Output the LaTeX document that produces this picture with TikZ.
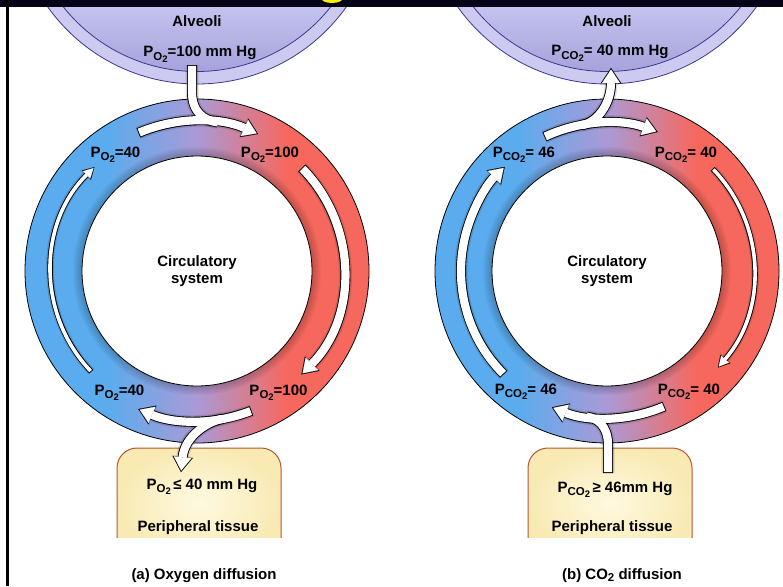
\documentclass[tikz,border=0pt]{standalone}
\usepackage{fontspec}
\setmainfont{Liberation Sans}
\usepackage{tikz}
\usetikzlibrary{arrows.meta,calc}
\definecolor{topband}{RGB}{4,4,22}
\definecolor{titleyellow}{RGB}{250,236,10}
\definecolor{ringblue}{RGB}{90,172,238}
\definecolor{ringpurple}{RGB}{170,154,214}
\definecolor{ringred}{RGB}{246,104,94}
\definecolor{alvband}{RGB}{204,202,240}
\definecolor{alvtop}{RGB}{196,194,238}
\definecolor{alvbottom}{RGB}{166,162,220}
\definecolor{alvline}{RGB}{58,58,140}
\definecolor{boxlight}{RGB}{254,249,224}
\definecolor{boxedge}{RGB}{249,234,180}
\definecolor{boxline}{RGB}{178,88,50}
\pgfdeclarehorizontalshading{ringgrad}{100bp}{color(0bp)=(ringblue); color(37bp)=(ringblue); color(50bp)=(ringpurple); color(63bp)=(ringred); color(100bp)=(ringred)}
\newcommand{\gasp}[2]{P\raisebox{-0.45ex}{\fontsize{11.5}{12}\selectfont #1\raisebox{-0.35ex}{\fontsize{9.5}{10}\selectfont #2}}}
\tikzset{
  lbl/.style={anchor=base, inner sep=0pt},
  ringline/.style={draw=black, line width=0.8pt},
  bigsh/.style={draw=black, line width=13pt, opacity=0.13, shift={(1.5,3)}},
  bigout/.style={draw=black, line width=10pt},
  bigin/.style={draw=white, line width=8.2pt, shorten <=0.9pt},
  tipsh/.style={-{Triangle[length=16pt,width=22pt,line width=0.1pt]}},
  tipout/.style={-{Triangle[length=15pt,width=20pt,line width=0.1pt]}},
  tipin/.style={shorten >=1.5pt, -{Triangle[length=13.3pt,width=17.6pt,line width=0.1pt]}},
  thinsh/.style={draw=black, line width=8pt, opacity=0.13, shift={(1.5,3)}},
  thinout/.style={draw=black, line width=5.4pt},
  thinin/.style={draw=white, line width=3.6pt, shorten <=0.9pt},
  thintipsh/.style={-{Triangle[length=12pt,width=15pt,line width=0.1pt]}},
  thintipout/.style={-{Triangle[length=11pt,width=12.5pt,line width=0.1pt]}},
  thintipin/.style={shorten >=1.2pt, -{Triangle[length=9.6pt,width=10.2pt,line width=0.1pt]}},
}
\begin{document}
\begin{tikzpicture}[x=1pt,y=-1pt,font=\bfseries\fontsize{15}{17}\selectfont]
  \useasboundingbox (0,0) rectangle (783,586);
  \fill[white] (0,0) rectangle (783,586);
  % alveoli
  \foreach \cx in {197,607}{
    \fill[alvband, draw=alvline, line width=0.8pt] (\cx,-99) circle (183);
    \begin{scope}
      \clip (\cx,-99) circle (170.5);
      \shade[top color=alvtop, bottom color=alvbottom] (\cx-175,7) rectangle (\cx+175,72);
    \end{scope}
    \draw[alvline, line width=0.8pt] (\cx,-99) circle (170.5);
  }
  \fill[topband] (0,0) rectangle (783,7.5);
  \begin{scope}
    \clip (0,0) rectangle (783,7.5);
    \fill[titleyellow] (332,-2) ellipse (11 and 5);
  \end{scope}
  \fill[black] (6,0) rectangle (8.5,586);

  \coordinate (ringA) at (197,271);
  \coordinate (ringB) at (607,271);
  \foreach \rc in {ringA,ringB}{
    \shade[shading=ringgrad] (\rc) circle (172);
    \foreach \k in {1,...,6}
      \draw[black, opacity=0.035, line width=3pt*\k] (\rc) circle (115);
    \draw[ringline] (\rc) circle (172);
    \fill[white, ringline] (\rc) circle (115);
  }

  % tissue boxes
  \begin{scope}
    \clip (0,440) rectangle (783,537);
    \foreach \bx in {117,528}
      \shade[inner color=boxlight, outer color=boxedge, draw=boxline, line width=1pt, rounded corners=20pt] (\bx,448) rectangle ++(164,110);
  \end{scope}

  % arrows
  \coordinate (oxTail) at (192,65);
  \coordinate (oxTip) at (181,472);
  \coordinate (coTip) at (611,68);
  \coordinate (coTail) at (608,473);
  \coordinate (oxIn) at ($(ringA)+(-82:150)$);
  \coordinate (oxOut) at ($(ringA)+(80:150)$);
  \coordinate (coOut) at ($(ringB)+(-100:148)$);
  \coordinate (coIn) at ($(ringB)+(98:147)$);
  \foreach \ly in {sh,out,in}{
    \draw[big\ly,tip\ly] ($(ringA)+(-113:150)$) arc[start angle=-113,end angle=-66,radius=150];
    \draw[big\ly] (oxTail) -- ++(0,27) .. controls +(0,20) and +(-14,-1.9) .. (oxIn);
    \draw[big\ly,tip\ly] ($(ringA)+(-44.5:147)$) arc[start angle=-44.5,end angle=44.7,radius=147];
    \draw[big\ly,tip\ly] ($(ringA)+(68.7:150)$) arc[start angle=68.7,end angle=113,radius=150];
    \draw[big\ly,tip\ly] (oxOut) .. controls +(-14,2.5) and +(4,-37) .. (oxTip);
    \draw[thin\ly,thintip\ly] ($(ringA)+(136.4:146)$) arc[start angle=136.4,end angle=225.3,radius=146];
    \draw[big\ly,tip\ly] ($(ringB)+(-115:148)$) arc[start angle=-115,end angle=-70,radius=148];
    \draw[big\ly,tip\ly] (coOut) .. controls +(15.7,-2.8) and +(0,36) .. (coTip);
    \draw[thin\ly,thintip\ly] ($(ringB)+(-44:147)$) arc[start angle=-44,end angle=41,radius=147];
    \draw[big\ly,tip\ly] ($(ringB)+(67:147)$) arc[start angle=67,end angle=112,radius=147];
    \draw[big\ly] (coTail) -- ++(0,-28) .. controls +(0,-20) and +(10,1.4) .. (coIn);
    \draw[big\ly,tip\ly] ($(ringB)+(135:146)$) arc[start angle=135,end angle=225.5,radius=146];
  }

  % labels
  \node[lbl] (alvA) at (197,26.5) {Alveoli};
  \node[lbl] (alvApres) at (200,56.5) {\gasp{O}{2}=100 mm Hg};
  \node[lbl] (alvB) at (607,26.5) {Alveoli};
  \node[lbl] (alvBpres) at (610,55.5) {\gasp{CO}{2}= 40 mm Hg};
  \node[lbl] (oxTL) at (115.5,157) {\gasp{O}{2}=40};
  \node[lbl] (oxTR) at (270,157) {\gasp{O}{2}=100};
  \node[lbl] (oxBL) at (119.5,395) {\gasp{O}{2}=40};
  \node[lbl] (oxBR) at (278.5,395) {\gasp{O}{2}=100};
  \node[lbl] (coTL) at (524,157) {\gasp{CO}{2}= 46};
  \node[lbl] (coTR) at (686,157) {\gasp{CO}{2}= 40};
  \node[lbl] (coBL) at (526,394) {\gasp{CO}{2}= 46};
  \node[lbl] (coBR) at (689,394) {\gasp{CO}{2}= 40};
  \node[align=center] (circA) at (ringA) {Circulatory\\system};
  \node[align=center] (circB) at (ringB) {Circulatory\\system};
  \node[lbl] (tisApres) at (202,489) {\gasp{O}{2}\,≤ 40 mm Hg};
  \node[lbl] (tisA) at (198,531) {Peripheral tissue};
  \node[lbl] (tisBpres) at (615,492) {\gasp{CO}{2}\,≥ 46mm Hg};
  \node[lbl] (tisB) at (612,531) {Peripheral tissue};
  \node[lbl] (capA) at (204,579) {(a) Oxygen diffusion};
  \node[lbl] (capB) at (622,579) {(b) CO\raisebox{-0.35ex}{\fontsize{11.5}{12}\selectfont 2} diffusion};
\end{tikzpicture}
\end{document}
